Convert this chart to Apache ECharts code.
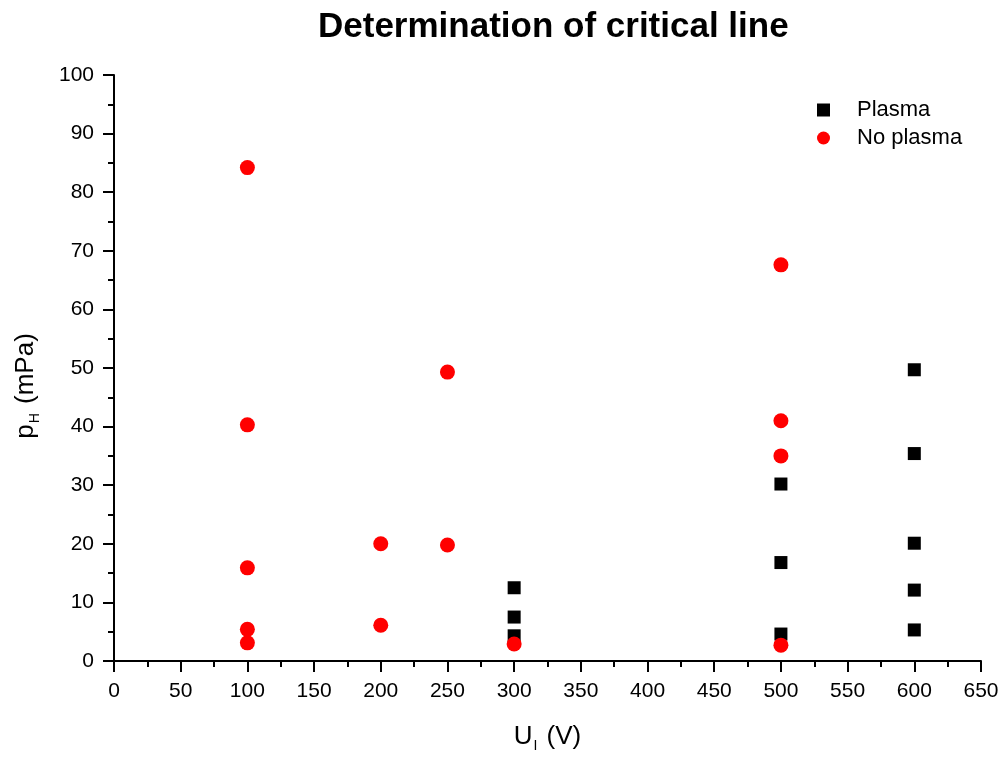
<!DOCTYPE html>
<html>
<head>
<meta charset="utf-8">
<script src="https://cdn.jsdelivr.net/npm/echarts@6/dist/echarts.min.js"></script>
<style>
html,body{margin:0;padding:0;background:#fff;}
#chart{width:1004px;height:758px;}
</style>
</head>
<body>
<div id="chart"></div>
<script>
// Data
var plasmaX = [300, 300, 300, 500, 500, 500, 600, 600, 600, 600, 600];
var plasmaY = [12.5, 7.5, 4.3, 30.2, 16.8, 4.6, 49.7, 35.4, 20.1, 12.1, 5.3];
var noPlasmaX = [100, 100, 100, 100, 100, 200, 200, 250, 250, 300, 500, 500, 500, 500];
var noPlasmaY = [84.2, 40.3, 15.9, 5.4, 3.1, 20.0, 6.1, 49.3, 19.8, 2.9, 67.6, 41.0, 35.0, 2.7];
var seriesNames = ['Plasma', 'No plasma'];
var titleText = 'Determination of critical line';

function pairs(xs, ys) { return xs.map(function (x, i) { return [x, ys[i]]; }); }

var font = 'Liberation Sans, Arial, sans-serif';
var chart = echarts.init(document.getElementById('chart'), null, { renderer: 'canvas' });
chart.setOption({
  backgroundColor: '#ffffff',
  animation: false,
  title: {
    text: titleText,
    left: 313,
    top: 5,
    textStyle: { fontFamily: font, fontWeight: 'bold', fontSize: 35, color: '#000' }
  },
  legend: {
    orient: 'vertical',
    left: 812,
    top: 94,
    itemGap: 6,
    itemWidth: 13,
    itemHeight: 13,
    textStyle: { fontFamily: font, fontSize: 22, color: '#000', padding: [0, 0, 0, 22] },
    data: [
      { name: seriesNames[0], icon: 'rect' },
      { name: seriesNames[1], icon: 'circle' }
    ]
  },
  grid: { left: 114, right: 23, top: 75, bottom: 95, containLabel: false },
  xAxis: {
    type: 'value',
    min: 0, max: 650, interval: 50,
    name: '{a|U}{s|I}{a| (V)}',
    nameLocation: 'middle',
    nameGap: 60,
    nameTextStyle: {
      rich: {
        a: { fontFamily: font, fontSize: 26, color: '#000' },
        s: { fontFamily: font, fontSize: 14, color: '#000', verticalAlign: 'bottom', padding: [18, 2, 0, 1] }
      }
    },
    axisLine: { show: true, onZero: false, lineStyle: { color: '#000', width: 2 } },
    axisTick: { show: true, inside: false, length: 11, lineStyle: { color: '#000', width: 2 } },
    minorTick: { show: true, splitNumber: 2, length: 6, lineStyle: { color: '#000', width: 2 } },
    axisLabel: { fontFamily: font, fontSize: 21, color: '#000', margin: 20 },
    splitLine: { show: false }
  },
  yAxis: {
    type: 'value',
    min: 0, max: 100, interval: 10,
    name: '{a|p}{s|H}{a| (mPa)}',
    nameLocation: 'middle',
    nameGap: 72,
    nameTextStyle: {
      padding: [0, 36, 0, 0],
      rich: {
        a: { fontFamily: font, fontSize: 26, color: '#000' },
        s: { fontFamily: font, fontSize: 14, color: '#000', verticalAlign: 'bottom', padding: [18, 2, 0, 1] }
      }
    },
    axisLine: { show: true, onZero: false, lineStyle: { color: '#000', width: 2 } },
    axisTick: { show: true, inside: false, length: 11, lineStyle: { color: '#000', width: 2 } },
    minorTick: { show: true, splitNumber: 2, length: 6, lineStyle: { color: '#000', width: 2 } },
    axisLabel: { fontFamily: font, fontSize: 21, color: '#000', margin: 20 },
    splitLine: { show: false }
  },
  series: [
    {
      name: seriesNames[0],
      type: 'scatter',
      symbol: 'rect',
      symbolSize: 13,
      itemStyle: { color: '#000000', opacity: 1 },
      data: pairs(plasmaX, plasmaY)
    },
    {
      name: seriesNames[1],
      type: 'scatter',
      symbol: 'circle',
      symbolSize: 15,
      itemStyle: { color: '#ff0000', opacity: 1 },
      data: pairs(noPlasmaX, noPlasmaY)
    }
  ]
});
</script>
</body>
</html>
